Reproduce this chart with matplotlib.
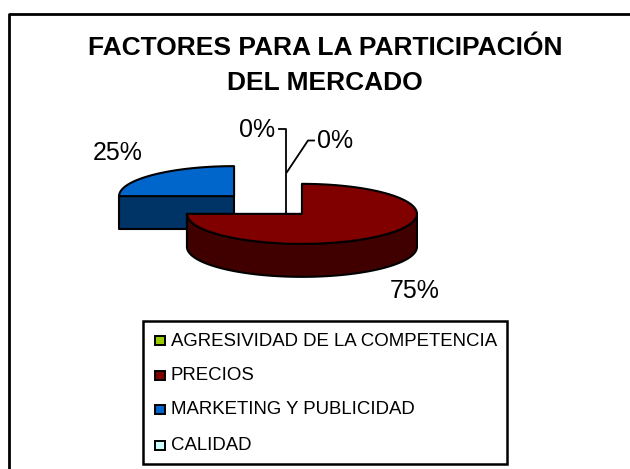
import numpy as np
import matplotlib
matplotlib.use("Agg")
import matplotlib.pyplot as plt
from matplotlib.patches import Polygon, Rectangle
from matplotlib.lines import Line2D

# ---- data ----
categories = ["AGRESIVIDAD DE LA COMPETENCIA", "PRECIOS",
              "MARKETING Y PUBLICIDAD", "CALIDAD"]
values = [0, 75, 25, 0]
pct_labels = ["0%", "75%", "25%", "0%"]
title_lines = ["FACTORES PARA LA PARTICIPACIÓN", "DEL MERCADO"]

# ---- style ----
top_colors = ["#99CC00", "#800000", "#0066CC", "#CCFFFF"]
side_colors = ["#5C7A00", "#400000", "#003366", "#7A9999"]

plt.rcParams['font.family'] = ['Liberation Sans', 'DejaVu Sans']

fig = plt.figure(figsize=(6.30, 4.69), dpi=100)
ax = fig.add_axes([0, 0, 1, 1])
ax.set_xlim(0, 630)
ax.set_ylim(469, 0)
ax.axis('off')

# outer chart frame (top and left visible)
ax.add_line(Line2D([9, 9, 640], [480, 14.5, 14.5], color='black', lw=2))

# title
ax.text(325, 48, title_lines[0], ha='center', va='center',
        fontsize=19, fontweight='bold')
ax.text(325, 83, title_lines[1], ha='center', va='center',
        fontsize=19, fontweight='bold')

# ---- 3D exploded pie geometry (pixel layout) ----
cx0, cy0 = 268, 205      # base centre
A, B = 115, 30           # ellipse radii
DEPTH = 33
EXPLODE = 48

total = float(sum(values))
cum = np.concatenate([[0], np.cumsum(values)]) / total
phi_start = 90 - 360 * cum[:-1]
phi_end = 90 - 360 * cum[1:]


def pt(cx, cy, phi, dz=0.0):
    r = np.radians(phi)
    return cx + A * np.cos(r), cy - B * np.sin(r) + dz


def draw_slice(i, zorder):
    p1, p2 = phi_start[i], phi_end[i]
    if p1 == p2:
        return
    mid = np.radians((p1 + p2) / 2)
    cx = cx0 + EXPLODE * np.cos(mid)
    cy = cy0 - EXPLODE * (B / A) * np.sin(mid)
    ec = dict(edgecolor='black', linewidth=1.5, joinstyle='round')
    # radial faces
    for phi, nrm in ((p1, p1 + 90), (p2, p2 - 90)):
        if np.sin(np.radians(nrm)) < -1e-6:
            ex, ey = pt(cx, cy, phi)
            poly = [(cx, cy), (ex, ey), (ex, ey + DEPTH), (cx, cy + DEPTH)]
            ax.add_patch(Polygon(poly, closed=True, facecolor=side_colors[i],
                                 zorder=zorder, **ec))
    # outer curved side: front half (phi in [-180, 0] mod 360)
    lo, hi = min(p1, p2), max(p1, p2)
    for shift in (-360, 0, 360):
        a0 = max(lo, -180 + shift)
        a1 = min(hi, 0 + shift)
        if a1 - a0 > 1e-6:
            ang = np.linspace(a0, a1, 120)
            topp = [pt(cx, cy, a) for a in ang]
            bot = [pt(cx, cy, a, DEPTH) for a in ang[::-1]]
            ax.add_patch(Polygon(topp + bot, closed=True,
                                 facecolor=side_colors[i], zorder=zorder + 1,
                                 **ec))
    # top surface
    ang = np.linspace(p1, p2, 200)
    poly = [(cx, cy)] + [pt(cx, cy, a) for a in ang]
    ax.add_patch(Polygon(poly, closed=True, facecolor=top_colors[i],
                         zorder=zorder + 2, **ec))


# draw back slice (marketing) first, then precios
order = sorted(range(len(values)),
               key=lambda k: -np.sin(np.radians((phi_start[k] + phi_end[k]) / 2)))
for n, i in enumerate(order):
    draw_slice(i, zorder=3 + 3 * n)

# ---- percentage labels (layout positions) ----
label_pos = [(257, 130), (415, 291), (118, 153), (335, 141)]
for lab, (x, y) in zip(pct_labels, label_pos):
    ax.text(x, y, lab, ha='center', va='center', fontsize=18, zorder=20)

# leader lines for the zero slices
ax.add_line(Line2D([279, 286, 286], [129.5, 129.5, 214], color='black',
                   lw=1.3, zorder=2))
ax.add_line(Line2D([314, 308, 287], [140.5, 140.5, 172], color='black',
                   lw=1.3, zorder=2))

# ---- legend ----
ax.add_patch(Rectangle((143, 321), 364, 143, facecolor='white',
                       edgecolor='black', linewidth=1.8, zorder=25))
rows = [341, 376, 410, 446]
for cat, col, y in zip(categories, top_colors, rows):
    ax.add_patch(Rectangle((155, y - 5), 9.5, 9.5, facecolor=col,
                           edgecolor='black', linewidth=1.4, zorder=26))
    ax.text(171, y, cat, ha='left', va='center', fontsize=13.4, zorder=26)

fig.savefig("out.png", dpi=100)
